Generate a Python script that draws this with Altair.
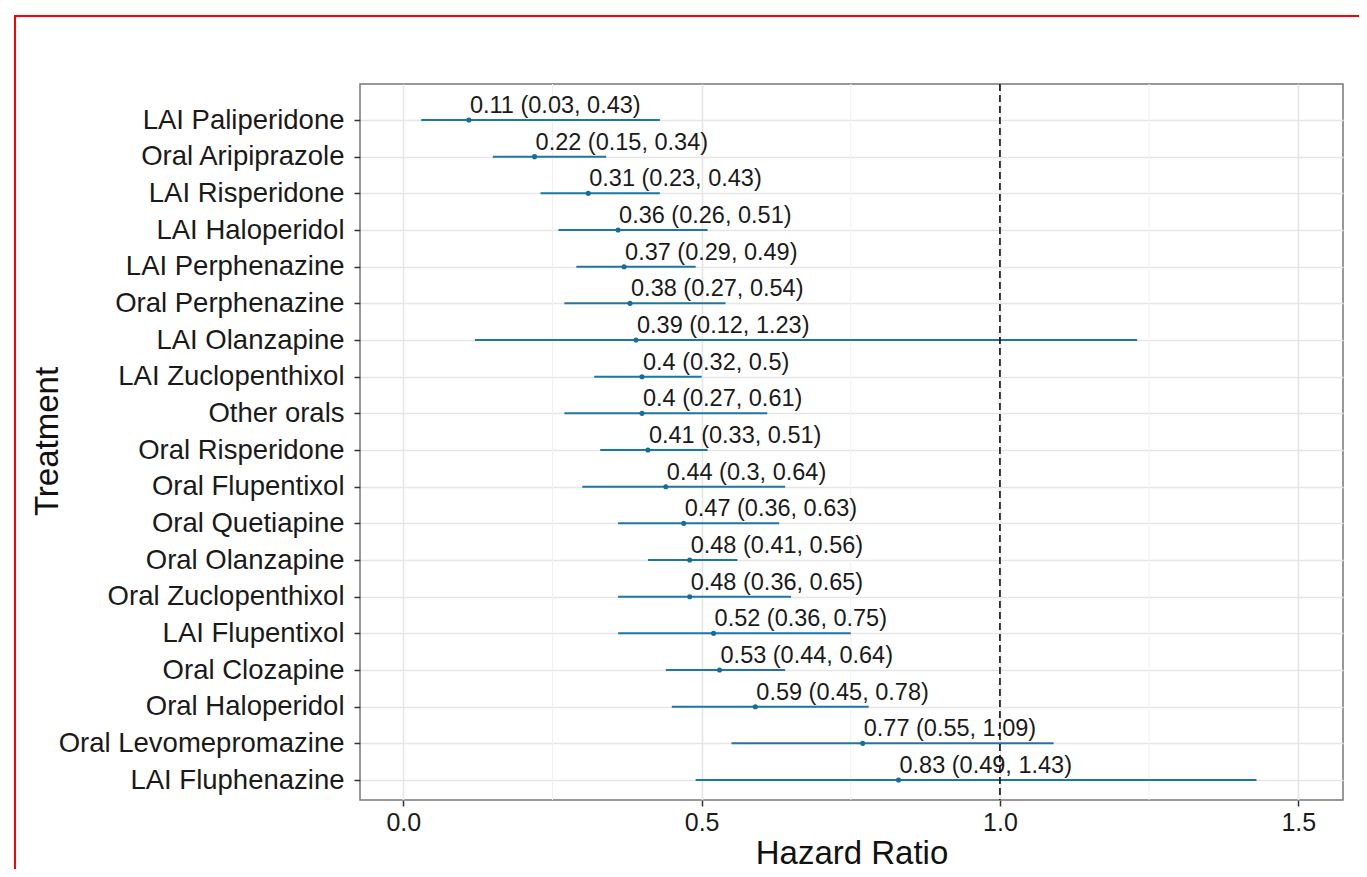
import json
import altair as alt
import pandas as pd

treatments = [
    "LAI Paliperidone", "Oral Aripiprazole", "LAI Risperidone", "LAI Haloperidol",
    "LAI Perphenazine", "Oral Perphenazine", "LAI Olanzapine", "LAI Zuclopenthixol",
    "Other orals", "Oral Risperidone", "Oral Flupentixol", "Oral Quetiapine",
    "Oral Olanzapine", "Oral Zuclopenthixol", "LAI Flupentixol", "Oral Clozapine",
    "Oral Haloperidol", "Oral Levomepromazine", "LAI Fluphenazine",
]
hr = [0.11, 0.22, 0.31, 0.36, 0.37, 0.38, 0.39, 0.4, 0.4, 0.41, 0.44, 0.47,
      0.48, 0.48, 0.52, 0.53, 0.59, 0.77, 0.83]
lower = [0.03, 0.15, 0.23, 0.26, 0.29, 0.27, 0.12, 0.32, 0.27, 0.33, 0.3, 0.36,
         0.41, 0.36, 0.36, 0.44, 0.45, 0.55, 0.49]
upper = [0.43, 0.34, 0.43, 0.51, 0.49, 0.54, 1.23, 0.5, 0.61, 0.51, 0.64, 0.63,
         0.56, 0.65, 0.75, 0.64, 0.78, 1.09, 1.43]
x_major = [0.0, 0.5, 1.0, 1.5]
x_minor = [0.25, 0.75, 1.25]
ref_line = [1.0]

df = pd.DataFrame({
    "treatment": treatments,
    "idx": list(range(len(treatments))),
    "hr": hr,
    "lo": lower,
    "hi": upper,
})
df["label"] = [f"{h} ({l}, {u})" for h, l, u in zip(hr, lower, upper)]

W, H = 983, 716
FONT = "Liberation Sans"
LINE = "#1f78a0"

xscale = alt.Scale(domain=[-0.0726, 1.575], nice=False, zero=False)
yscale = alt.Scale(domain=[-0.982, 18.545], nice=False, zero=False, reverse=True)

label_expr = json.dumps(treatments) + "[datum.value]"

xaxis = alt.Axis(
    values=x_major, format=".1f", title="Hazard Ratio", grid=True,
    gridColor="#e6e6e6", gridWidth=1.6, domain=False,
    tickColor="#333333", tickWidth=1.5, tickSize=6, labelPadding=4,
    labelFont=FONT, labelFontSize=25, labelColor="#1a1a1a",
    labelOverlap=False,
    titleFont=FONT, titleFontSize=33, titleFontWeight="normal", titleColor="#111111",
    titleBaseline="alphabetic", titleY=63, titleX=W / 2, titleAlign="center",
)
yaxis = alt.Axis(
    values=list(range(len(treatments))), labelExpr=label_expr, title="Treatment",
    grid=True, gridColor="#e6e6e6", gridWidth=1.6, domain=False,
    tickColor="#333333", tickWidth=1.5, tickSize=6, labelPadding=10,
    labelFont=FONT, labelFontSize=27.5, labelColor="#1a1a1a",
    labelOverlap=False, labelLimit=1000, labelBound=False,
    titleFont=FONT, titleFontSize=33, titleFontWeight="normal", titleColor="#111111",
    titleAngle=-90, titleBaseline="alphabetic", titleX=-303, titleY=H / 2 - 1,
    titleAlign="center",
)

frame = alt.Chart(pd.DataFrame({"f": [0]})).mark_rect(
    fillOpacity=0, stroke="#ff0000", strokeWidth=2
).encode(
    x=alt.value(-345), x2=alt.value(1200), y=alt.value(-68), y2=alt.value(1000)
)

minor = alt.Chart(pd.DataFrame({"m": x_minor})).mark_rule(
    color="#f0f0f0", strokeWidth=1
).encode(x=alt.X("m:Q", scale=xscale, axis=xaxis, title="Hazard Ratio"))

ci = alt.Chart(df).mark_rule(color=LINE, strokeWidth=2).encode(
    x=alt.X("lo:Q", scale=xscale, axis=xaxis, title="Hazard Ratio"),
    x2="hi:Q",
    y=alt.Y("idx:Q", scale=yscale, axis=yaxis, title="Treatment"),
)

pts = alt.Chart(df).mark_point(
    filled=True, shape="circle", size=26, color="#136f96", opacity=1
).encode(
    x=alt.X("hr:Q", scale=xscale, axis=xaxis, title="Hazard Ratio"),
    y=alt.Y("idx:Q", scale=yscale, axis=yaxis, title="Treatment"),
)

txt = alt.Chart(df).mark_text(
    align="left", baseline="alphabetic", dx=1, dy=-7,
    font=FONT, fontSize=23.5, color="#1a1a1a"
).encode(
    x=alt.X("hr:Q", scale=xscale, axis=xaxis, title="Hazard Ratio"),
    y=alt.Y("idx:Q", scale=yscale, axis=yaxis, title="Treatment"),
    text="label:N",
)

vline = alt.Chart(pd.DataFrame({"r": ref_line})).mark_rule(
    color="#000000", strokeWidth=1.5, strokeDash=[7, 4]
).encode(x=alt.X("r:Q", scale=xscale, axis=xaxis, title="Hazard Ratio"))

chart = alt.layer(frame, minor, ci, pts, txt, vline).properties(
    width=W, height=H,
    autosize=alt.AutoSizeParams(type="none"),
    padding={"left": 352, "top": 76, "right": 16, "bottom": 69},
    background="white",
).configure_view(stroke="#777777", strokeWidth=1.5).configure_axis(labelOverlap=False)

chart.save("out.html", embed_options={"renderer": "svg", "actions": False})
